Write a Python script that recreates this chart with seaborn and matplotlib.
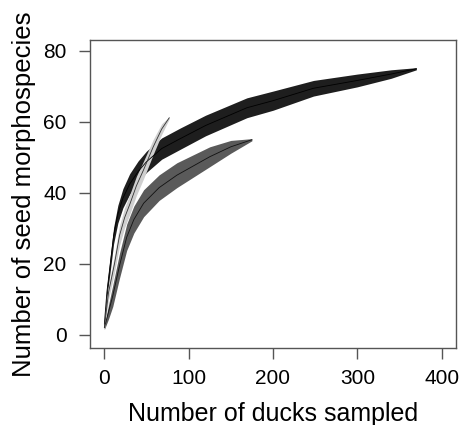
import matplotlib
matplotlib.use("Agg")
import matplotlib.pyplot as plt
import seaborn as sns
import numpy as np
import pandas as pd

# ---- data ----
black_x = [0, 3, 7, 11, 16, 22, 30, 40, 50, 68, 90, 120, 169, 200, 248, 300, 340, 370]
black_y = [3, 12, 20, 28, 34, 38.5, 42.5, 46, 48.8, 52.5, 55.3, 59, 64, 66, 69.5, 71.7, 73.5, 75]
black_hw = [0.5, 1.5, 2, 2.3, 2.5, 2.7, 2.9, 3, 3, 3, 3, 2.9, 2.8, 2.7, 2.2, 1.8, 1.2, 0.3]

dark_x = [0, 5, 10, 18, 26.5, 35, 46.6, 65, 86, 125, 150, 175]
dark_y = [2, 6.5, 11, 19.5, 27.5, 32.5, 37.1, 41.5, 45, 50.2, 53, 55]
dark_hw = [0.5, 2, 3, 3.5, 3.7, 3.8, 3.8, 3.6, 3.5, 2.8, 1.8, 0.3]

light_x = [0, 5, 12, 18, 24, 30.5, 38, 46.5, 58, 68, 77]
light_y = [2, 12, 20, 28, 33, 37, 42, 46.5, 53, 58, 61.2]
light_hw = [0.5, 2, 2.5, 2.8, 2.8, 2.8, 2.7, 2.5, 2.1, 1.5, 0.3]

x_ticks = [0, 100, 200, 300, 400]
y_ticks = [0, 20, 40, 60, 80]

sns.set_style("white")
plt.rcParams['font.family'] = ['Liberation Sans', 'DejaVu Sans']
plt.rcParams['text.color'] = 'black'
plt.rcParams['axes.labelcolor'] = 'black'

fig = plt.figure(figsize=(4.6, 4.25), dpi=100)
ax = fig.add_axes([90/460, 1-348/425, (456-90)/460, (348-40)/425])

series = [
    ("dark", dark_x, dark_y, dark_hw, "#5a5a5a", "#111111"),
    ("black", black_x, black_y, black_hw, "#1e1e1e", "#000000"),
    ("light", light_x, light_y, light_hw, "#cfcfcf", "#333333"),
]
for name, xs, ys, hw, col, lcol in series:
    xs = np.array(xs, float); ys = np.array(ys, float); hw = np.array(hw, float)
    ax.fill_between(xs, ys - hw, ys + hw, color=col, linewidth=0, zorder=2)
    df = pd.DataFrame({"x": xs, "y": ys})
    sns.lineplot(data=df, x="x", y="y", ax=ax, color=lcol, linewidth=0.6, zorder=3)

ax.set_xlim(-17, 417)
ax.set_ylim(-3.7, 83.1)
ax.set_xticks(x_ticks)
ax.set_yticks(y_ticks)
ax.tick_params(axis="both", direction="out", length=8, width=1, color="#555555",
               labelsize=15, labelcolor="black", left=True, bottom=True)
ax.tick_params(axis="x", pad=7)
ax.tick_params(axis="y", pad=9)
for s in ax.spines.values():
    s.set_color("#555555")
    s.set_linewidth(1)
ax.set_xlabel("Number of ducks sampled", fontsize=18, labelpad=10, color="black")
ax.set_ylabel("Number of seed morphospecies", fontsize=18.5, labelpad=5, color="black")

fig.savefig("out.png", dpi=100)
